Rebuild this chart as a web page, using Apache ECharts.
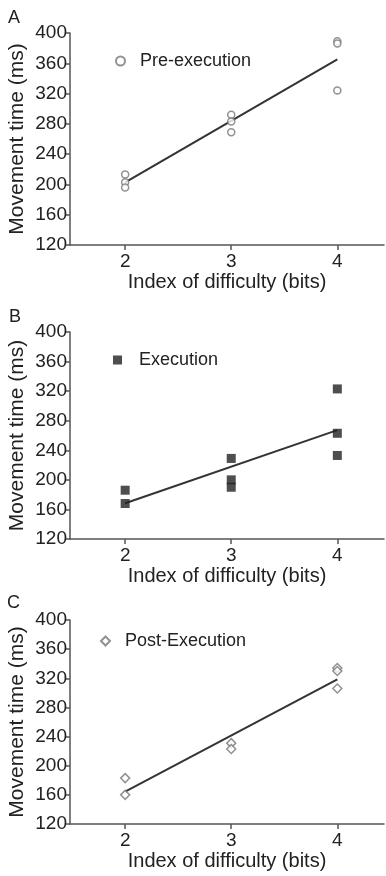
<!DOCTYPE html>
<html>
<head>
<meta charset="utf-8">
<script src="https://cdn.jsdelivr.net/npm/echarts@6/dist/echarts.min.js"></script>
<style>
  html, body { margin: 0; padding: 0; background: #fff; }
  #main { width: 386px; height: 876px; }
</style>
</head>
<body>
<div id="main"></div>
<script>
// difficulty levels (bits) for each point
var preX = [2, 2, 2, 3, 3, 3, 4, 4, 4];
var preY = [213, 203, 196, 292, 283, 269, 389, 386, 324];
var exeX = [2, 2, 3, 3, 3, 4, 4, 4];
var exeY = [186, 168, 229, 200, 190, 323, 263, 233];
var postX = [2, 2, 3, 3, 4, 4, 4];
var postY = [183, 160, 231, 223, 334, 330, 306];
var xTicks = [2, 3, 4];
var panelNames = ['A', 'B', 'C'];
var seriesNames = ['Pre-execution', 'Execution', 'Post-Execution'];

function pairs(xs, ys) {
  return xs.map(function (x, i) { return [x, ys[i]]; });
}

// least squares line, drawn from x=2 to x=4
function fitLine(xs, ys) {
  var n = xs.length, mx = 0, my = 0;
  for (var i = 0; i < n; i++) { mx += xs[i]; my += ys[i]; }
  mx /= n; my /= n;
  var sxy = 0, sxx = 0;
  for (var i = 0; i < n; i++) {
    sxy += (xs[i] - mx) * (ys[i] - my);
    sxx += (xs[i] - mx) * (xs[i] - mx);
  }
  var b = sxy / sxx, a = my - b * mx;
  return [[2, a + b * 2], [4, a + b * 4]];
}

var font = 'Liberation Sans, Arial, sans-serif';
var axisColor = '#555';
var tops = [33, 332, 620];

var grids = [], xAxes = [], yAxes = [], legends = [], graphics = [];
for (var k = 0; k < 3; k++) {
  grids.push({ left: 70, right: 2, top: tops[k], height: [212, 207, 204][k],
    containLabel: false, outerBoundsMode: 'none' });
  xAxes.push({
    type: 'value', gridIndex: k, min: 1.48, max: 4.44,
    name: 'Index of difficulty (bits)', nameLocation: 'middle', nameGap: 27,
    nameTextStyle: { fontSize: 20, color: '#222', fontFamily: font },
    axisLine: { lineStyle: { color: axisColor, width: 1.5 } },
    axisTick: { show: true, length: 5, customValues: xTicks, lineStyle: { color: axisColor, width: 1.5 } },
    axisLabel: { customValues: xTicks, fontSize: 19, color: '#222', margin: 7, fontFamily: font },
    splitLine: { show: false }
  });
  yAxes.push({
    type: 'value', gridIndex: k, min: 120, max: 400, interval: 40,
    name: 'Movement time (ms)', nameLocation: 'middle', nameGap: 42, nameMoveOverlap: false,
    nameTextStyle: { fontSize: 21, color: '#222', fontFamily: font },
    axisLine: { show: true, lineStyle: { color: axisColor, width: 1.5 } },
    axisTick: { show: true, length: 5, lineStyle: { color: axisColor, width: 1.5 } },
    axisLabel: { fontSize: 19, color: '#222', margin: 3, fontFamily: font },
    splitLine: { show: false }
  });
  legends.push({
    data: [seriesNames[k]],
    left: [110, 108, 95][k], top: [tops[k] + 14, tops[k] + 14, tops[k] + 7][k],
    itemWidth: 9, itemHeight: 9,
    textStyle: { fontSize: 18, color: '#222', fontFamily: font, padding: [0, 0, 0, [10, 12, 10][k]] }
  });
  graphics.push({
    type: 'text', left: [8, 9, 7][k], top: [9, 308, 594][k],
    style: { text: panelNames[k], fontSize: 18, fill: '#222', fontFamily: font }
  });
}

var openStyle = { color: '#fff', borderColor: '#777', borderWidth: 1.5 };

var option = {
  animation: false,
  backgroundColor: '#fff',
  grid: grids,
  xAxis: xAxes,
  yAxis: yAxes,
  legend: legends,
  graphic: graphics,
  series: [
    { name: seriesNames[0], type: 'scatter', xAxisIndex: 0, yAxisIndex: 0, symbol: 'circle', symbolSize: 7,
      itemStyle: openStyle, data: pairs(preX, preY), z: 3 },
    { type: 'line', xAxisIndex: 0, yAxisIndex: 0, symbol: 'none', data: fitLine(preX, preY),
      lineStyle: { color: '#333', width: 2 }, z: 2 },
    { name: seriesNames[1], type: 'scatter', xAxisIndex: 1, yAxisIndex: 1, symbol: 'rect', symbolSize: 9,
      itemStyle: { color: '#222' }, data: pairs(exeX, exeY), z: 3 },
    { type: 'line', xAxisIndex: 1, yAxisIndex: 1, symbol: 'none', data: fitLine(exeX, exeY),
      lineStyle: { color: '#333', width: 2 }, z: 2 },
    { name: seriesNames[2], type: 'scatter', xAxisIndex: 2, yAxisIndex: 2, symbol: 'diamond', symbolSize: 9,
      itemStyle: openStyle, data: pairs(postX, postY), z: 3 },
    { type: 'line', xAxisIndex: 2, yAxisIndex: 2, symbol: 'none', data: fitLine(postX, postY),
      lineStyle: { color: '#333', width: 2 }, z: 2 }
  ]
};

var chart = echarts.init(document.getElementById('main'));
chart.setOption(option);
</script>
</body>
</html>
